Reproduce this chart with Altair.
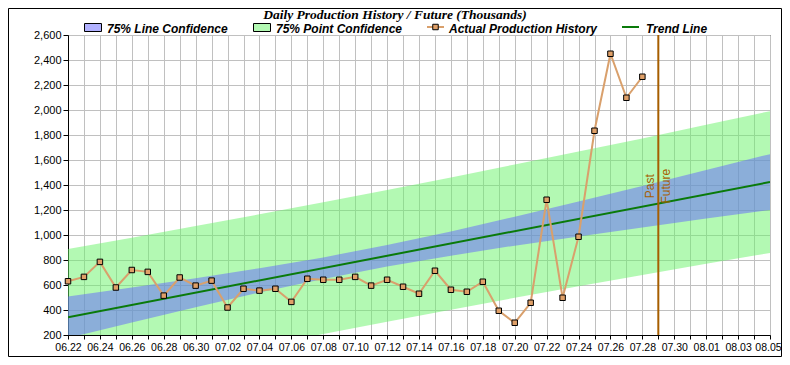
import json
import altair as alt
import pandas as pd

# ---------------- data ----------------
axis_dates = [
    "06.22", "06.23", "06.24", "06.25", "06.26", "06.27", "06.28", "06.29", "06.30",
    "07.01", "07.02", "07.03", "07.04", "07.05", "07.06", "07.07", "07.08", "07.09",
    "07.10", "07.11", "07.12", "07.13", "07.14", "07.15", "07.16", "07.17", "07.18",
    "07.19", "07.20", "07.21", "07.22", "07.23", "07.24", "07.25", "07.26", "07.27",
    "07.28", "07.29", "07.30", "07.31", "08.01", "08.02", "08.03", "08.04", "08.05",
]

production_dates = axis_dates[:37]
production = [630, 665, 785, 580, 720, 705, 515, 660, 595, 635, 420, 570, 555, 570,
              465, 650, 642, 642, 665, 595, 642, 586, 530, 714, 562, 546, 626, 394,
              298, 458, 1282, 498, 986, 1834, 2450, 2098, 2266]

band_dates = ["06.22", "06.26", "06.30", "07.04", "07.08", "07.12",
              "07.16", "07.20", "07.24", "07.28", "08.01", "08.05"]
line_upper = [508, 580, 655, 734, 821, 920, 1029, 1147, 1269, 1393, 1520, 1647]
line_lower = [176, 300, 423, 540, 649, 748, 835, 915, 989, 1061, 1132, 1201]
point_upper = [888, 979, 1072, 1166, 1262, 1361, 1461, 1564, 1668, 1773, 1882, 1991]
point_lower = [-204, -99, 6, 108, 208, 307, 403, 498, 590, 681, 770, 857]

trend_dates = ["06.22", "08.05"]
trend_values = [342, 1424]

divider_date = "07.29"
divider_labels = ["Past", "Future"]
divider_label_value = 1390

y_ticks = [200, 400, 600, 800, 1000, 1200, 1400, 1600, 1800, 2000, 2200, 2400, 2600]

title_text = "Daily Production History / Future (Thousands)"
legend_labels = ["75% Line Confidence", "75% Point Confidence",
                 "Actual Production History", "Trend Line"]

# ---------------- tables ----------------
idx = {d: i for i, d in enumerate(axis_dates)}
last_idx = len(axis_dates) - 1
prod_df = pd.DataFrame({"date": production_dates, "value": production})
prod_df["day"] = prod_df["date"].map(idx)

band_df = pd.DataFrame({"date": band_dates, "lu": line_upper, "ll": line_lower,
                        "pu": point_upper, "pl": point_lower})
band_df["day"] = band_df["date"].map(idx)

trend_df = pd.DataFrame({"date": trend_dates, "value": trend_values})
trend_df["day"] = trend_df["date"].map(idx)

div_df = pd.DataFrame({"day": [idx[divider_date]], "v": [divider_label_value],
                       "past": [divider_labels[0]], "future": [divider_labels[1]]})

one = pd.DataFrame({"k": [0]})

# ---------------- styles ----------------
GRID = "#c0c0c0"
GREEN_FILL = "#67f367"
BLUE_FILL = "#6464ff"
ACTUAL_LINE = "#d9a06c"
ACTUAL_MARK = "#e0a068"
TREND = "#0a7a0a"
DIVIDER = "#a65e00"
LABEL_FONT = "Liberation Sans"

W, H = 702, 300
PAD_L, PAD_T = 60, 27
PAD_R = 774 - PAD_L - W
PAD_B = 349 - PAD_T - H

label_expr = "datum.value % 2 == 0 ? " + json.dumps(axis_dates) + "[datum.value] : ''"

x_axis = alt.Axis(values=list(range(len(axis_dates))), labelExpr=label_expr,
                  grid=True, gridColor=GRID, gridWidth=1,
                  tickColor="black", tickSize=4, domainColor="black",
                  labelFont=LABEL_FONT, labelFontSize=10.5, labelColor="#000",
                  labelPadding=3, labelFlush=False, labelOverlap=False,
                  labelOffset={"condition": {"test": f"datum.value == {last_idx}",
                                             "value": -2}, "value": 0},
                  title=None)
y_axis = alt.Axis(values=y_ticks, format=",.0f", grid=True, gridColor=GRID, gridWidth=1,
                  tickColor="black", tickSize=5, domainColor="black",
                  labelFont=LABEL_FONT, labelFontSize=11, labelColor="#000",
                  labelPadding=2, labelFlush=False, labelOverlap=False, title=None)

x_scale = alt.Scale(domain=[0, last_idx], nice=False, zero=False)
y_scale = alt.Scale(domain=[200, 2600], nice=False, zero=False)


def X():
    return alt.X("day:Q", scale=x_scale, axis=x_axis)


def Yf(field):
    return alt.Y(field, type="quantitative", scale=y_scale, axis=y_axis)


point_band = alt.Chart(band_df).mark_area(color=GREEN_FILL, opacity=0.5, clip=True).encode(
    x=X(), y=Yf("pl"), y2="pu")
line_band = alt.Chart(band_df).mark_area(color=BLUE_FILL, opacity=0.5, clip=True).encode(
    x=X(), y=Yf("ll"), y2="lu")
trend = alt.Chart(trend_df).mark_line(color=TREND, strokeWidth=2, clip=True).encode(
    x=X(), y=Yf("value"))
actual_line = alt.Chart(prod_df).mark_line(color=ACTUAL_LINE, strokeWidth=2).encode(
    x=X(), y=Yf("value"))
actual_pts = alt.Chart(prod_df).mark_point(shape="square", filled=True, size=30,
                                           fill=ACTUAL_MARK, stroke="black",
                                           strokeWidth=1, opacity=1).encode(
    x=X(), y=Yf("value"))
divider = alt.Chart(div_df).mark_rule(color=DIVIDER, strokeWidth=2).encode(x=X())
past_txt = alt.Chart(div_df).mark_text(angle=270, align="center", baseline="bottom",
                                       dy=-1, font=LABEL_FONT, fontSize=12,
                                       color=DIVIDER).encode(
    x=X(), y=Yf("v"), text="past:N")
future_txt = alt.Chart(div_df).mark_text(angle=270, align="center", baseline="top",
                                         dy=3, font=LABEL_FONT, fontSize=12,
                                         color=DIVIDER).encode(
    x=X(), y=Yf("v"), text="future:N")

# ---------------- title & legend (pixel offsets from the plot's top-left) ----------------
OX = PAD_L + 8  # page x of plot origin
title = alt.Chart(one).mark_text(align="center", baseline="alphabetic",
                                 font="Liberation Serif", fontSize=13.5,
                                 fontStyle="italic", fontWeight="bold", color="black").encode(
    x=alt.value(395 - OX), y=alt.value(-15.8), text=alt.value(title_text))

leg_font = dict(align="left", baseline="alphabetic", font=LABEL_FONT, fontSize=12,
                fontStyle="italic", fontWeight="bold", color="black")
leg_y = -2.5
leg_items = []
leg_items.append(alt.Chart(one).mark_rect(fill=BLUE_FILL, fillOpacity=0.5, stroke="black",
                                          strokeWidth=1).encode(
    x=alt.value(84.5 - OX), x2=alt.value(101.5 - OX), y=alt.value(-11.5), y2=alt.value(-3.5)))
leg_items.append(alt.Chart(one).mark_text(**leg_font).encode(
    x=alt.value(107 - OX), y=alt.value(leg_y), text=alt.value(legend_labels[0])))
leg_items.append(alt.Chart(one).mark_rect(fill=GREEN_FILL, fillOpacity=0.5, stroke="black",
                                          strokeWidth=1).encode(
    x=alt.value(253.5 - OX), x2=alt.value(270.5 - OX), y=alt.value(-11.5), y2=alt.value(-3.5)))
leg_items.append(alt.Chart(one).mark_text(**leg_font).encode(
    x=alt.value(276 - OX), y=alt.value(leg_y), text=alt.value(legend_labels[1])))
leg_items.append(alt.Chart(one).mark_rule(color=ACTUAL_LINE, strokeWidth=2).encode(
    x=alt.value(427 - OX), x2=alt.value(444 - OX), y=alt.value(-8)))
leg_items.append(alt.Chart(one).mark_point(shape="square", filled=True, size=30,
                                           fill=ACTUAL_MARK, stroke="black",
                                           strokeWidth=1, opacity=1).encode(
    x=alt.value(435.5 - OX), y=alt.value(-8)))
leg_items.append(alt.Chart(one).mark_text(**leg_font).encode(
    x=alt.value(449 - OX), y=alt.value(leg_y), text=alt.value(legend_labels[2])))
leg_items.append(alt.Chart(one).mark_rule(color=TREND, strokeWidth=2).encode(
    x=alt.value(622 - OX), x2=alt.value(639 - OX), y=alt.value(-8)))
leg_items.append(alt.Chart(one).mark_text(**leg_font).encode(
    x=alt.value(646 - OX), y=alt.value(leg_y), text=alt.value(legend_labels[3])))

frame = alt.Chart(one).mark_rect(filled=False, stroke="black", strokeWidth=1).encode(
    x=alt.value(-PAD_L + 0.5), x2=alt.value(W + PAD_R - 0.5),
    y=alt.value(-PAD_T + 0.5), y2=alt.value(H + PAD_B - 0.5))

chart = alt.layer(
    point_band, line_band, trend, actual_line, actual_pts, divider, past_txt, future_txt,
    title, *leg_items, frame
).properties(
    width=W, height=H, autosize="none",
    padding={"left": PAD_L, "top": PAD_T, "right": PAD_R, "bottom": PAD_B},
    background="white",
).configure_view(stroke="black", strokeWidth=1)

chart.save("out.html", embed_options={"renderer": "svg", "actions": False})
